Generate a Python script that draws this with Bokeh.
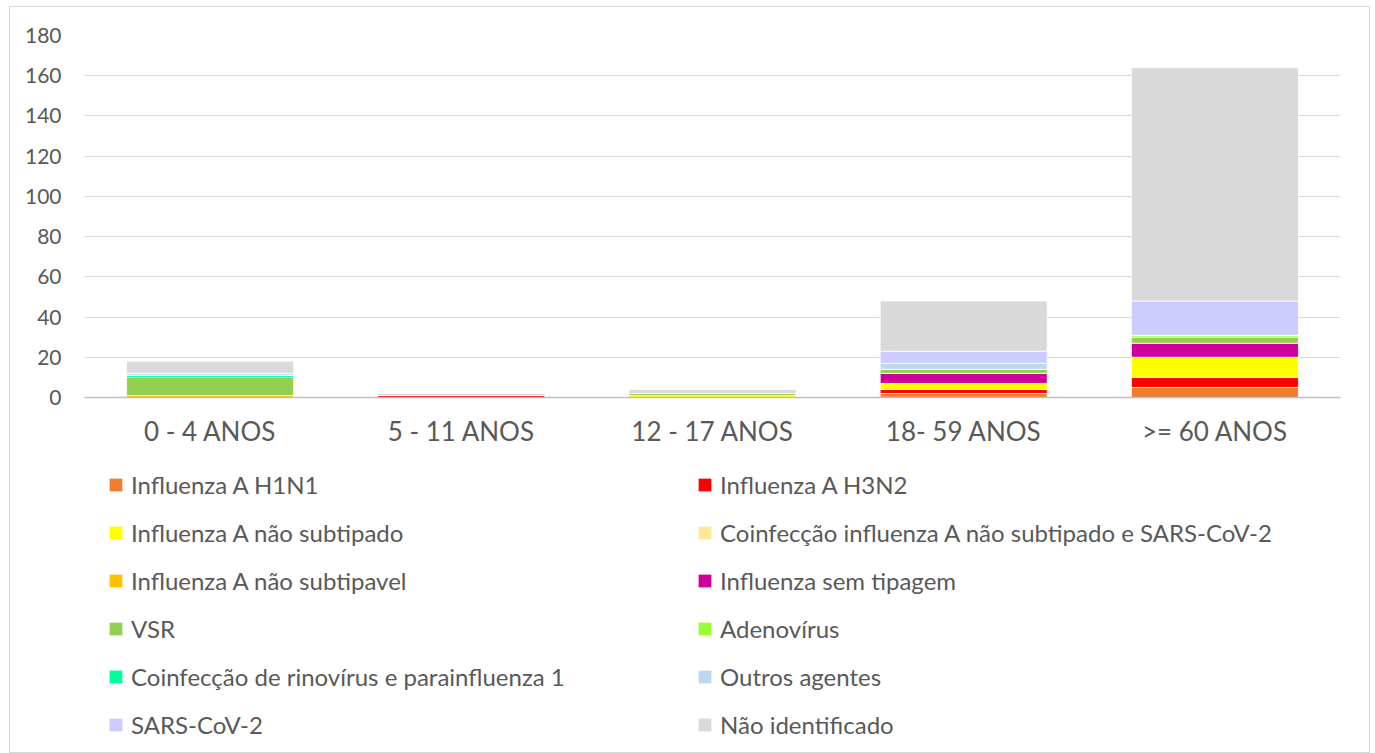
from bokeh.plotting import figure
from bokeh.layouts import column
from bokeh.models import ColumnDataSource, Range1d, Legend, LegendItem, FixedTicker
from bokeh.embed import file_html
from bokeh.resources import INLINE

categories = ["0 - 4 ANOS", "5 - 11 ANOS", "12 - 17 ANOS", "18- 59 ANOS", ">= 60 ANOS"]

series_names = [
    "Influenza A H1N1",
    "Influenza A H3N2",
    "Influenza A não subtipado",
    "Coinfecção influenza A não subtipado e SARS-CoV-2",
    "Influenza A não subtipavel",
    "Influenza sem tipagem",
    "VSR",
    "Adenovírus",
    "Coinfecção de rinovírus e parainfluenza 1",
    "Outros agentes",
    "SARS-CoV-2",
    "Não identificado",
]

h1n1 = [0, 0, 0, 2, 5]
h3n2 = [0, 1, 0, 2, 5]
flu_a_nao_subtipado = [0, 0, 1, 3, 10]
coinf_flu_sars = [0, 0, 0, 0, 0]
flu_a_nao_subtipavel = [1, 0, 0, 0, 0]
flu_sem_tipagem = [0, 0, 0, 5, 7]
vsr = [9, 0, 1, 2, 3]
adenovirus = [0, 0, 0, 0, 1]
coinf_rino_para = [1, 0, 0, 0, 0]
outros_agentes = [0, 0, 0, 3, 0]
sars_cov_2 = [1, 0, 0, 6, 17]
nao_identificado = [6, 1, 2, 25, 116]

series_values = [h1n1, h3n2, flu_a_nao_subtipado, coinf_flu_sars, flu_a_nao_subtipavel,
                 flu_sem_tipagem, vsr, adenovirus, coinf_rino_para, outros_agentes,
                 sars_cov_2, nao_identificado]

colors = ["#ED7D31", "#FF0000", "#FFFF00", "#FFE699", "#FFC000", "#CC0099",
          "#92D050", "#99FF33", "#00FF99", "#BDD7EE", "#CCCCFF", "#D9D9D9"]

y_ticks = [0, 20, 40, 60, 80, 100, 120, 140, 160, 180]

keys = [f"s{i}" for i in range(len(series_names))]
data = {"cat": categories}
for k, v in zip(keys, series_values):
    data[k] = v
source = ColumnDataSource(data)

FONT = "Lato"
TXT = "#595959"

W = 1359
p = figure(x_range=categories, y_range=Range1d(0, 180),
           width=W, height=460, output_backend="svg", toolbar_location=None,
           min_border_left=74, min_border_right=29, min_border_top=28,
           min_border_bottom=70)

p.vbar_stack(keys, x="cat", width=0.665, color=colors, source=source,
             line_color="white", line_width=0.8)

p.outline_line_color = None
p.xgrid.grid_line_color = None
p.ygrid.grid_line_color = "#D9D9D9"
p.ygrid.grid_line_width = 1
p.yaxis.ticker = FixedTicker(ticks=y_ticks)

p.yaxis.axis_line_color = None
p.yaxis.major_tick_line_color = None
p.yaxis.minor_tick_line_color = None
p.yaxis.major_label_standoff = 17
p.yaxis.major_label_text_font = FONT
p.yaxis.major_label_text_font_size = "21px"
p.yaxis.major_label_text_color = TXT

p.xaxis.axis_line_color = "#BFBFBF"
p.xaxis.axis_line_width = 1.5
p.xaxis.major_tick_line_color = None
p.xaxis.minor_tick_line_color = None
p.xaxis.major_label_standoff = 11
p.xaxis.major_label_text_font = FONT
p.xaxis.major_label_text_font_size = "26px"
p.xaxis.major_label_text_color = TXT

# legend panel: same series, drawn out of view so only the legend shows
lg = figure(x_range=categories, y_range=Range1d(1000, 1001),
            width=W, height=285, output_backend="svg", toolbar_location=None,
            min_border_left=74, min_border_right=29, min_border_top=0,
            min_border_bottom=0)
lrs = lg.vbar_stack(keys, x="cat", width=0.665, color=colors, source=source,
                    line_color="white", line_width=0.8)
lg.axis.visible = False
lg.grid.grid_line_color = None
lg.outline_line_color = None

order = [0, 2, 4, 6, 8, 10, 1, 3, 5, 7, 9, 11]
items = [LegendItem(label=series_names[i], renderers=[lrs[i]]) for i in order]
legend = Legend(items=items, ncols=2, orientation="vertical",
                location=(23, 13), label_text_font=FONT, label_text_font_size="24px",
                label_text_color=TXT, glyph_width=17, glyph_height=17,
                label_standoff=7, label_width=546, label_height=29,
                spacing=19, padding=0, margin=0,
                border_line_color=None, background_fill_alpha=0)
lg.add_layout(legend, "center")

layout = column(p, lg, spacing=0,
                styles={"border": "1px solid #D9D9D9", "margin-left": "9px",
                        "margin-top": "6px"})
open("out.html", "w").write(file_html(layout, INLINE))
